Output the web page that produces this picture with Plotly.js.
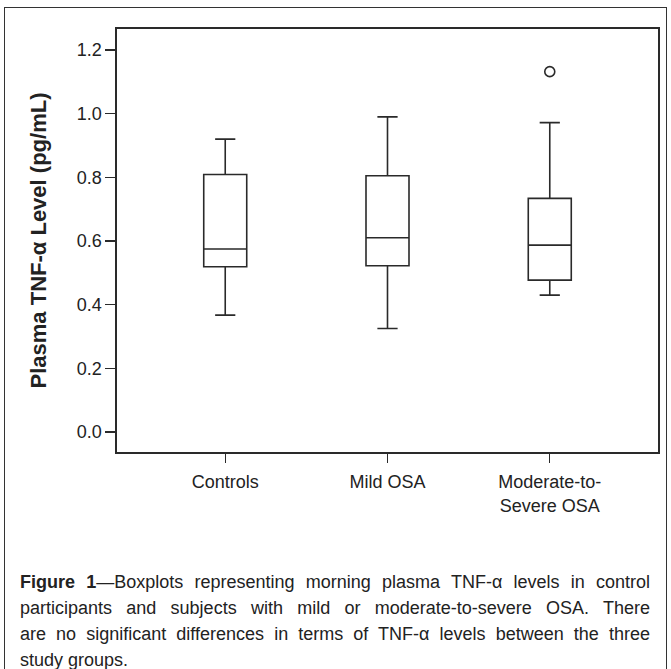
<!DOCTYPE html>
<html>
<head>
<meta charset="utf-8">
<script src="https://cdn.plot.ly/plotly-3.0.1.min.js"></script>
<style>
  html, body { margin: 0; padding: 0; background: #fff; }
  #wrap { position: relative; width: 671px; height: 669px; overflow: hidden; }
  #chart { position: absolute; left: 0; top: 0; width: 671px; height: 669px; }
  #frame { position: absolute; left: 4px; top: 7px; width: 663px; height: 700px;
           border: 1.5px solid #333; box-sizing: border-box; pointer-events: none; }
  #caption { position: absolute; left: 20px; top: 569px; width: 630px;
             font-family: "Liberation Sans", Arial, sans-serif; font-size: 18px;
             line-height: 26px; color: #222; }
  #caption div { text-align: justify; text-align-last: justify; white-space: nowrap; }
  #caption div.last { text-align-last: left; }
  #caption b { font-weight: bold; }
</style>
</head>
<body>
<div id="wrap">
  <div id="chart"></div>
  <div id="frame"></div>
  <div id="caption">
    <div><b>Figure 1</b>—Boxplots representing morning plasma TNF-α levels in control</div>
    <div>participants and subjects with mild or moderate-to-severe OSA. There</div>
    <div>are no significant differences in terms of TNF-α levels between the three</div>
    <div class="last">study groups.</div>
  </div>
</div>
<script>
// ---- data ----
const categories = ['Controls', 'Mild OSA', 'Moderate-to-<br>Severe OSA'];
const q1Vals = [0.519, 0.522, 0.477];
const medianVals = [0.575, 0.610, 0.587];
const q3Vals = [0.809, 0.805, 0.734];
const lowerFenceVals = [0.367, 0.325, 0.430];
const upperFenceVals = [0.920, 0.990, 0.972];
const outlierCats = ['Moderate-to-<br>Severe OSA'];
const outlierVals = [1.132];
const yTickVals = [0.0, 0.2, 0.4, 0.6, 0.8, 1.0, 1.2];
const yTickText = ['0.0', '0.2', '0.4', '0.6', '0.8', '1.0', '1.2'];

const axisFont = { family: '"Liberation Sans", Arial, sans-serif', size: 18, color: '#222' };
const lineColor = '#2a2a2a';

const traces = [
  {
    type: 'box',
    x: categories,
    q1: q1Vals,
    median: medianVals,
    q3: q3Vals,
    lowerfence: lowerFenceVals,
    upperfence: upperFenceVals,
    boxpoints: false,
    width: 0.265,
    whiskerwidth: 0.47,
    fillcolor: 'rgba(255,255,255,0)',
    line: { color: lineColor, width: 1.6 },
    hoverinfo: 'skip',
    showlegend: false
  },
  {
    type: 'scatter',
    mode: 'markers',
    x: outlierCats,
    y: outlierVals,
    marker: { symbol: 'circle-open', size: 10, color: lineColor, line: { width: 1.6, color: lineColor } },
    hoverinfo: 'skip',
    showlegend: false
  }
];

const layout = {
  width: 671,
  height: 669,
  margin: { l: 117, r: 13, t: 29, b: 217 },
  paper_bgcolor: 'rgba(0,0,0,0)',
  plot_bgcolor: '#fff',
  font: axisFont,
  showlegend: false,
  xaxis: {
    type: 'category',
    categoryorder: 'array',
    categoryarray: categories,
    range: [-0.667, 2.667],
    showgrid: false,
    zeroline: false,
    showline: true,
    mirror: true,
    linecolor: lineColor,
    linewidth: 1.6,
    ticks: 'outside',
    ticklen: 9,
    tickwidth: 1.4,
    tickcolor: lineColor,
    tickfont: axisFont,
    ticklabelstandoff: 4
  },
  yaxis: {
    range: [-0.063, 1.266],
    tickvals: yTickVals,
    ticktext: yTickText,
    showgrid: false,
    zeroline: false,
    showline: true,
    mirror: true,
    linecolor: lineColor,
    linewidth: 1.6,
    ticks: 'outside',
    ticklen: 10,
    tickwidth: 1.4,
    tickcolor: lineColor,
    tickfont: axisFont,
    title: {
      text: '<b>Plasma TNF-α Level (pg/mL)</b>',
      font: { family: '"Liberation Sans", Arial, sans-serif', size: 22, color: '#222' },
      standoff: 24
    }
  }
};

Plotly.newPlot('chart', traces, layout, { displayModeBar: false, staticPlot: true });
</script>
</body>
</html>
